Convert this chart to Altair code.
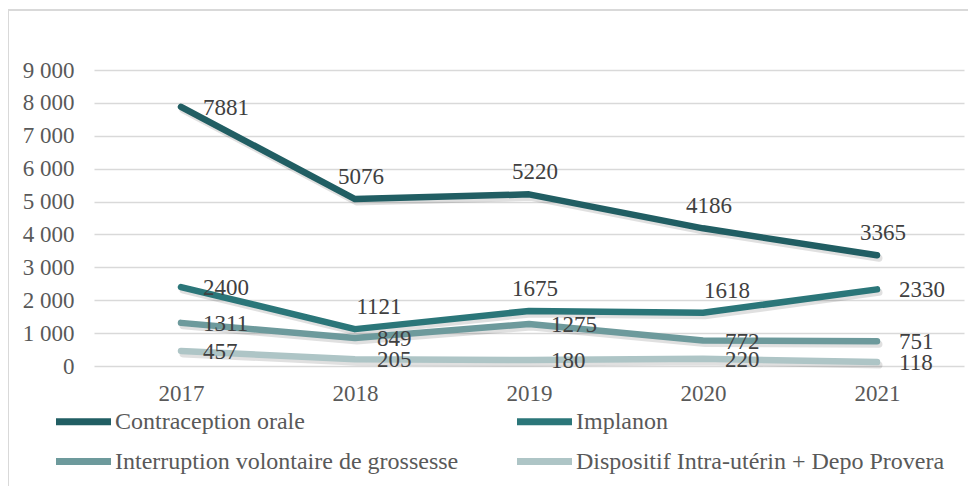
import altair as alt
import pandas as pd

years = ["2017", "2018", "2019", "2020", "2021"]
series = [
    "Contraception orale",
    "Implanon",
    "Interruption volontaire de grossesse",
    "Dispositif Intra-utérin + Depo Provera",
]
contraception_orale = [7881, 5076, 5220, 4186, 3365]
implanon = [2400, 1121, 1675, 1618, 2330]
ivg = [1311, 849, 1275, 772, 751]
diu_depo = [457, 205, 180, 220, 118]
values = [contraception_orale, implanon, ivg, diu_depo]
colors = ["#215E63", "#2B7679", "#6D9A9C", "#AEC5C6"]

# data-label placement class per point (layout, not data)
label_pos = [
    ["right", "above", "above", "above", "above"],
    ["right", "above_r", "above", "above_r", "right"],
    ["right"] * 5,
    ["right"] * 5,
]

rows = []
for si, (name, vals) in enumerate(zip(series, values)):
    for yi, (yr, v) in enumerate(zip(years, vals)):
        rows.append({"series": name, "order": si, "year": yr, "value": v,
                     "pos": label_pos[si][yi]})
df = pd.DataFrame(rows)

FONT = "Liberation Serif"
FS = 23

x_enc = alt.X("year:O", scale=alt.Scale(type="point", padding=0.5), title=None,
              axis=alt.Axis(labelAngle=0, domain=False, ticks=False, grid=False,
                            labelPadding=16, labelFont=FONT, labelFontSize=FS,
                            labelColor="#595959"))
y_enc = alt.Y("value:Q", scale=alt.Scale(domain=[0, 9000], nice=False), title=None,
              axis=alt.Axis(values=list(range(0, 9001, 1000)), domain=False, ticks=False,
                            labelPadding=20, labelFont=FONT, labelFontSize=FS,
                            labelColor="#595959", gridColor="#D9D9D9", gridWidth=1.5,
                            labelExpr="replace(format(datum.value, ','), ',', ' ')"))

base = alt.Chart(df).encode(x=x_enc, y=y_enc)

frame = alt.Chart(alt.Data(values=[{"a": 1}])).mark_rect(
    fillOpacity=0, stroke="#D9D9D9", strokeWidth=2
).encode(x=alt.value(-86), x2=alt.value(920), y=alt.value(-60), y2=alt.value(520))

shadow = base.mark_line(strokeWidth=7, strokeCap="round", strokeJoin="round",
                        color="#000000", opacity=0.12, xOffset=2, yOffset=3).encode(
    detail="series:N", order=alt.Order("year:O"))

lines = base.mark_line(strokeWidth=6.5, strokeCap="round", strokeJoin="round").encode(
    color=alt.Color("series:N", scale=alt.Scale(domain=series, range=colors),
                    sort=series,
                    legend=alt.Legend(title=None, orient="none", legendX=-28, legendY=334,
                                      direction="horizontal",
                                      columns=2, columnPadding=44, rowPadding=8,
                                      symbolType="M-2,0L2,0", symbolSize=756,
                                      symbolStrokeWidth=7, labelFont=FONT,
                                      labelFontSize=24, labelColor="#595959",
                                      labelOffset=14, labelLimit=600)),
    order=alt.Order("year:O"),
)

txt_kw = dict(font=FONT, fontSize=FS, color="#404040")
t_right = base.mark_text(align="left", baseline="middle", dx=22, dy=1, **txt_kw).encode(
    text="value:Q").transform_filter("datum.pos == 'right'")
t_above = base.mark_text(align="center", baseline="middle", dx=6, dy=-22, **txt_kw).encode(
    text="value:Q").transform_filter("datum.pos == 'above'")
t_above_r = base.mark_text(align="center", baseline="middle", dx=24, dy=-22, **txt_kw).encode(
    text="value:Q").transform_filter("datum.pos == 'above_r'")

chart = alt.layer(frame, shadow, lines, t_right, t_above, t_above_r).properties(
    width=870, height=296,
    autosize=alt.AutoSizeParams(type="none"),
    padding={"left": 86, "top": 62, "right": 4, "bottom": 120},
).configure_view(stroke=None).configure_text(font=FONT).configure_axis(
    labelFont=FONT).configure_legend(labelFont=FONT)

chart.save("out.html", embed_options={"renderer": "svg", "actions": False})
